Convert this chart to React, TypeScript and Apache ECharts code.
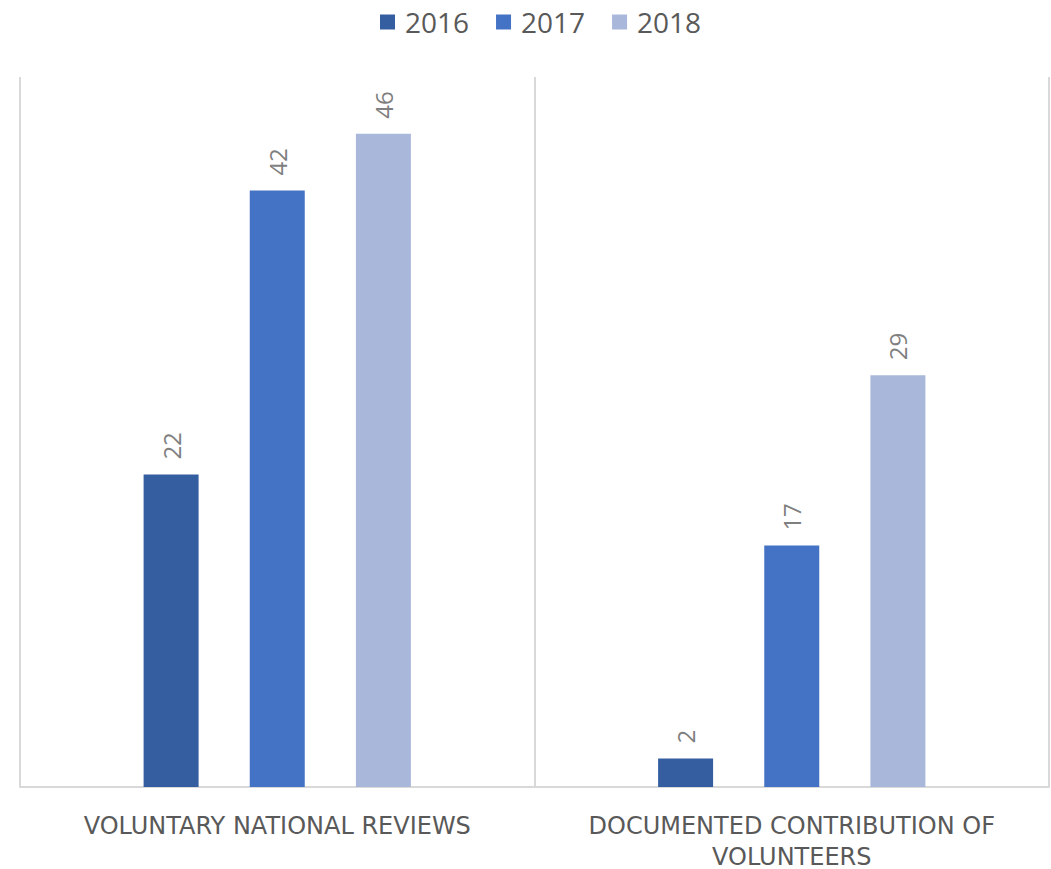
import React, { useEffect, useRef } from "react";
import * as echarts from "echarts";

const categories = ["VOLUNTARY NATIONAL REVIEWS", "DOCUMENTED CONTRIBUTION OF\nVOLUNTEERS"];
const seriesNames = ["2016", "2017", "2018"];
const values2016 = [22, 2];
const values2017 = [42, 17];
const values2018 = [46, 29];
const colors = ["#355EA0", "#4472C4", "#A9B7DB"];

export default function App() {
  const ref = useRef<HTMLDivElement>(null);
  useEffect(() => {
    if (!ref.current) return;
    const chart = echarts.init(ref.current, null, { renderer: "svg" });
    const data = [values2016, values2017, values2018];
    chart.setOption({
      animation: false,
      legend: {
        top: 3,
        left: 375,
        itemWidth: 15,
        itemHeight: 15,
        itemGap: 27,
        icon: "rect",
        textStyle: { fontSize: 28, color: "#595959", fontFamily: "Open Sans", padding: [0, 0, 0, 5] },
        data: seriesNames,
      },
      grid: { left: 20, right: 2, top: 77, bottom: 82, outerBoundsMode: "none", containLabel: false },
      xAxis: {
        type: "category",
        data: categories,
        axisLine: { show: true, lineStyle: { color: "#d9d9d9", width: 2 } },
        axisTick: { show: false },
        splitLine: { show: true, interval: 0, lineStyle: { color: "#d9d9d9", width: 2 } },
        axisLabel: {
          interval: 0,
          hideOverlap: false,
          color: "#595959",
          fontSize: 24,
          fontFamily: "DejaVu Sans",
          margin: 23,
          lineHeight: 31,
        },
      },
      yAxis: {
        type: "value",
        min: 0,
        max: 50,
        show: false,
        splitLine: { show: false },
      },
      series: seriesNames.map((name, i) => ({
        name,
        type: "bar",
        data: data[i],
        barWidth: 55,
        barGap: "93%",
        itemStyle: { color: colors[i] },
        label: {
          show: true,
          position: "top",
          rotate: 90,
          align: "left",
          verticalAlign: "middle",
          distance: 15,
          color: "#7f7f7f",
          fontSize: 24,
          fontFamily: "Open Sans",
        },
      })),
    });
    return () => chart.dispose();
  }, []);
  return (
    <div
      ref={ref}
      style={{ position: "fixed", left: 0, top: 0, width: 1051, height: 869, background: "#fff" }}
    />
  );
}
